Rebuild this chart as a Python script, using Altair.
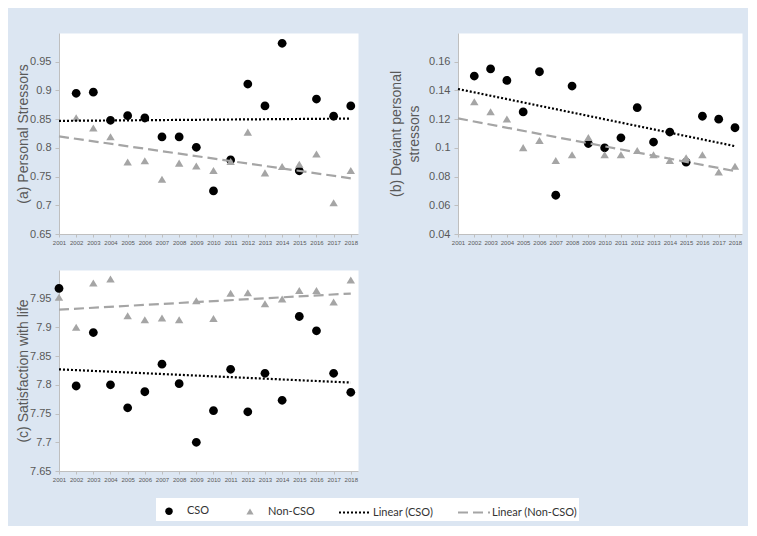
import altair as alt
import pandas as pd

# ---- data ----
years_ab = list(range(2002, 2019))
years_c = list(range(2001, 2019))
x_ticks = list(range(2001, 2019))
trend_years = [2001, 2018]

a_cso = [0.895, 0.897, 0.848, 0.856, 0.852, 0.819, 0.819, 0.801, 0.725, 0.779,
         0.911, 0.873, 0.982, 0.760, 0.885, 0.855, 0.873]
a_non = [0.852, 0.834, 0.819, 0.775, 0.777, 0.745, 0.773, 0.768, 0.760, 0.776,
         0.827, 0.756, 0.767, 0.771, 0.789, 0.704, 0.760]
a_trend_cso = [0.847, 0.851]
a_trend_non = [0.820, 0.747]

b_cso = [0.150, 0.155, 0.147, 0.125, 0.153, 0.067, 0.143, 0.103, 0.100, 0.107,
         0.128, 0.104, 0.111, 0.090, 0.122, 0.120, 0.114]
b_non = [0.132, 0.125, 0.120, 0.100, 0.105, 0.091, 0.095, 0.107, 0.095, 0.095,
         0.098, 0.095, 0.091, 0.093, 0.095, 0.083, 0.087]
b_trend_cso = [0.141, 0.1012]
b_trend_non = [0.1205, 0.0838]

c_cso = [7.968, 7.798, 7.891, 7.800, 7.760, 7.788, 7.836, 7.802, 7.700, 7.755,
         7.827, 7.753, 7.820, 7.773, 7.919, 7.894, 7.820, 7.787]
c_non = [7.952, 7.900, 7.977, 7.984, 7.920, 7.913, 7.916, 7.913, 7.946, 7.915,
         7.959, 7.960, 7.941, 7.949, 7.964, 7.964, 7.944, 7.982]
c_trend_cso = [7.827, 7.804]
c_trend_non = [7.931, 7.959]

a_ticks = [0.65, 0.7, 0.75, 0.8, 0.85, 0.9, 0.95]
b_ticks = [0.04, 0.06, 0.08, 0.1, 0.12, 0.14, 0.16]
c_ticks = [7.65, 7.7, 7.75, 7.8, 7.85, 7.9, 7.95]

keys = ["CSO", "Non-CSO", "Linear (CSO)", "Linear (Non-CSO)"]
BLACK = "#000000"
GRAY = "#a5a5a5"

# symbol paths (unit = sqrt(size)/2); the leading moveTo gives every legend entry
# the same left edge as the line samples
CIRCLE = "M-1.6,0M0.375,0A0.375,0.375,0,1,1,-0.375,0A0.375,0.375,0,1,1,0.375,0Z"
TRIANGLE = "M-1.6,0M0,-0.32L0.36,0.28L-0.36,0.28Z"
STROKE = "M-1.6,0L1.6,0"


def frame(years, cso, non, tc, tn):
    rows = []
    for y, v in zip(years, cso):
        rows.append({"year": y, "value": v, "key": "CSO", "kind": "pt"})
    for y, v in zip(years, non):
        rows.append({"year": y, "value": v, "key": "Non-CSO", "kind": "pt"})
    for y, v in zip(trend_years, tc):
        rows.append({"year": y, "value": v, "key": "Linear (CSO)", "kind": "fit"})
    for y, v in zip(trend_years, tn):
        rows.append({"year": y, "value": v, "key": "Linear (Non-CSO)", "kind": "fit"})
    return pd.DataFrame(rows)


df_a = frame(years_ab, a_cso, a_non, a_trend_cso, a_trend_non)
df_b = frame(years_ab, b_cso, b_non, b_trend_cso, b_trend_non)
df_c = frame(years_c, c_cso, c_non, c_trend_cso, c_trend_non)

leg = alt.Legend(
    title=None, orient="none", legendX=97, legendY=465, direction="horizontal",
    fillColor="white", padding=2, columnPadding=20, labelOffset=7,
    symbolSize=400, symbolStrokeWidth=2, labelFont="Lato", labelFontSize=11,
    labelColor="#333333", symbolOpacity=1,
)

fill_scale = alt.Scale(domain=keys, range=[BLACK, GRAY, "transparent", "transparent"])
stroke_scale = alt.Scale(domain=keys, range=["transparent", "transparent", BLACK, GRAY])
shape_scale = alt.Scale(domain=keys, range=[CIRCLE, TRIANGLE, STROKE, STROKE])
dash_scale = alt.Scale(domain=keys, range=[[1, 0], [1, 0], [2, 2], [10, 5]])


def panel(df, ydom, yticks, title, width, xmax, title_pad):
    x = alt.X("year:Q",
              scale=alt.Scale(domain=[2001, xmax], nice=False, zero=False),
              axis=alt.Axis(values=x_ticks, format="d", title=None,
                            labelOverlap=False, labelFlush=False))
    y = alt.Y("value:Q",
              scale=alt.Scale(domain=ydom, nice=False, zero=False),
              axis=alt.Axis(values=yticks, format="~g", title=title,
                            titlePadding=title_pad, labelFlush=False,
                            labelOverlap=False))
    base = alt.Chart(df)
    pts = base.transform_filter(alt.datum.kind == "pt").mark_point(
        filled=True, size=550, opacity=1
    ).encode(
        x=x, y=y,
        fill=alt.Fill("key:N", scale=fill_scale, legend=leg),
        shape=alt.Shape("key:N", scale=shape_scale, legend=leg),
    )
    lines = base.transform_filter(alt.datum.kind == "fit").mark_line(
        strokeWidth=2.2
    ).encode(
        x=x, y=y,
        stroke=alt.Stroke("key:N", scale=stroke_scale, legend=leg),
        strokeDash=alt.StrokeDash("key:N", scale=dash_scale, legend=leg),
    )
    return alt.layer(pts, lines).properties(width=width, height=201)


pa = panel(df_a, [0.65, 1.0], a_ticks, "(a) Personal Stressors", 299, 2018.42, -1)
pb = panel(df_b, [0.04, 0.18], b_ticks, ["(b) Deviant personal", "stressors"], 284, 2018.43, 7)
pc = panel(df_c, [7.65, 8.0], c_ticks, "(c) Satisfaction with life", 299, 2018.42, -1)

chart = alt.vconcat(
    alt.hconcat(pa, pb, spacing=30),
    pc,
    spacing=23,
).properties(
    padding={"left": 8, "top": 24, "right": 5, "bottom": 5},
    background="#dce6f2",
).configure_view(
    fill="white", stroke="transparent"
).configure_axis(
    domainColor="#bfbfbf", tickColor="#bfbfbf", labelColor="#595959",
    titleColor="#595959", labelFont="Liberation Sans", titleFont="Liberation Sans",
    titleFontWeight="normal", grid=False,
).configure_axisX(
    labelFontSize=6, tickSize=3, labelPadding=2,
).configure_axisY(
    labelFontSize=11, tickSize=4, labelPadding=4, titleFontSize=14, titleLineHeight=18,
)

chart.save("out.html", embed_options={"renderer": "svg", "actions": False})
